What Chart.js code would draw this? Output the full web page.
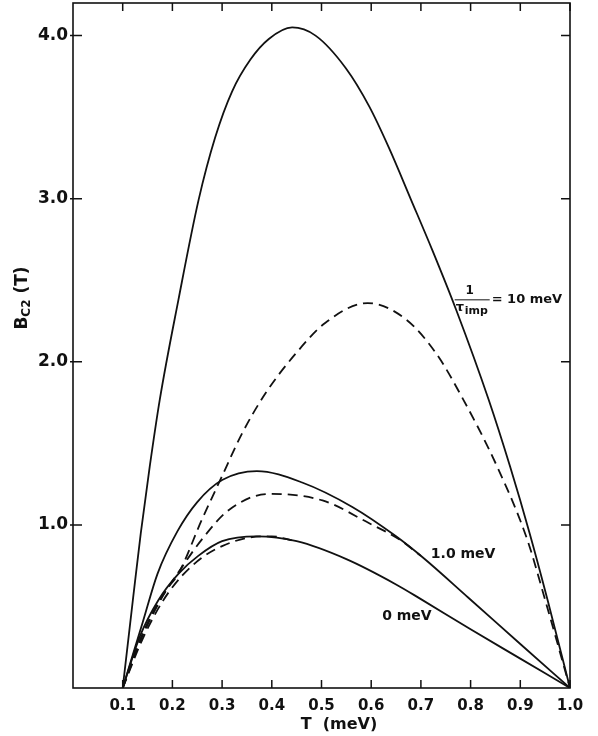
<!DOCTYPE html>
<html>
<head>
<meta charset="utf-8">
<script src="https://cdn.jsdelivr.net/npm/chart.js@4.4.1/dist/chart.umd.min.js"></script>
<style>
  html, body { margin: 0; padding: 0; background: #fff; }
  #wrap { width: 598px; height: 736px; position: relative; }
</style>
</head>
<body>
<div id="wrap"><canvas id="grafico"></canvas></div>
<script>
// x ticks (T in meV) and y ticks (Bc2 in T)
const xTicks = [0.1, 0.2, 0.3, 0.4, 0.5, 0.6, 0.7, 0.8, 0.9, 1.0];
const yTicks = [1, 2, 3, 4];

// 1/tau_imp = 10 meV, solid
const tSolid10 = [0.1, 0.1205, 0.1364, 0.1545, 0.1747, 0.2121, 0.2525, 0.286, 0.320, 0.357, 0.394, 0.441, 0.488, 0.549, 0.596, 0.636, 0.680, 0.7236, 0.7709, 0.8364, 0.8796, 0.9186, 0.9549, 1.0];
const bSolid10 = [0, 0.54, 0.95, 1.36, 1.77, 2.38, 2.99, 3.375, 3.657, 3.853, 3.979, 4.05, 4.00, 3.80, 3.566, 3.31, 2.995, 2.68, 2.319, 1.767, 1.356, 0.951, 0.54, 0];
// 10 meV, dashed
const tDash10 = [0.1, 0.13, 0.16, 0.19, 0.212, 0.259, 0.300, 0.340, 0.388, 0.448, 0.508, 0.593, 0.670, 0.731, 0.785, 0.853, 0.914, 0.95, 1.0];
const bDash10 = [0, 0.26, 0.46, 0.61, 0.70, 1.03, 1.30, 1.56, 1.81, 2.05, 2.24, 2.36, 2.26, 2.05, 1.77, 1.36, 0.91, 0.54, 0];
// 1.0 meV, solid
const tSolid1 = [0.1, 0.14, 0.17, 0.21, 0.25, 0.30, 0.37, 0.461, 0.562, 0.650, 0.704, 0.795, 0.90, 1.0];
const bSolid1 = [0, 0.40, 0.70, 0.96, 1.14, 1.275, 1.33, 1.26, 1.11, 0.93, 0.80, 0.555, 0.27, 0];
// 1.0 meV, dashed
const tDash1 = [0.1, 0.14, 0.18, 0.219, 0.259, 0.313, 0.394, 0.502, 0.596, 0.657, 0.70];
const bDash1 = [0, 0.32, 0.56, 0.74, 0.91, 1.09, 1.19, 1.15, 1.01, 0.91, 0.81];
// 0 meV, solid
const tSolid0 = [0.1, 0.135, 0.172, 0.212, 0.252, 0.30, 0.37, 0.45, 0.55, 0.65, 0.70, 0.80, 0.90, 1.0];
const bSolid0 = [0, 0.32, 0.54, 0.70, 0.81, 0.90, 0.93, 0.90, 0.79, 0.635, 0.545, 0.36, 0.18, 0];
// 0 meV, dashed
const tDash0 = [0.1, 0.14, 0.18, 0.22, 0.26, 0.30, 0.35, 0.40, 0.44];
const bDash0 = [0, 0.30, 0.53, 0.69, 0.80, 0.87, 0.92, 0.93, 0.905];

const FONT = "'DejaVu Sans', 'Liberation Sans', sans-serif";

function pts(t, b) {
    return t.map((v, i) => ({ x: v, y: b[i] }));
}

function serie(t, b, dashed) {
    return {
        data: pts(t, b),
        borderColor: '#111',
        borderWidth: 1.8,
        borderDash: dashed ? [10, 6] : [],
        pointRadius: 0,
        fill: false,
        cubicInterpolationMode: 'monotone'
    };
}

// frame, inward ticks, labels and axis titles
const extras = {
    id: 'extras',
    afterDatasetsDraw(chart) {
        const ctx = chart.ctx;
        const a = chart.chartArea;
        const xs = chart.scales.x;
        const ys = chart.scales.y;
        ctx.save();
        ctx.strokeStyle = '#111';
        ctx.lineWidth = 1.6;
        ctx.strokeRect(a.left, a.top, a.right - a.left, a.bottom - a.top);

        ctx.lineWidth = 1.5;
        ctx.beginPath();
        xTicks.forEach(v => {
            const px = xs.getPixelForValue(v);
            ctx.moveTo(px, a.bottom); ctx.lineTo(px, a.bottom - 8);
            ctx.moveTo(px, a.top); ctx.lineTo(px, a.top + 8);
        });
        yTicks.forEach(v => {
            const py = ys.getPixelForValue(v);
            ctx.moveTo(a.left - 3, py); ctx.lineTo(a.left + 9, py);
            ctx.moveTo(a.right, py); ctx.lineTo(a.right - 9, py);
        });
        ctx.stroke();

        ctx.fillStyle = '#111';
        ctx.textBaseline = 'middle';

        // 1/tau_imp = 10 meV
        const fx = xs.getPixelForValue(0.770);
        const fy = ys.getPixelForValue(2.38);
        ctx.font = 'bold 12px ' + FONT;
        ctx.textAlign = 'center';
        ctx.fillText('1', fx + 14, fy - 9);
        ctx.beginPath();
        ctx.lineWidth = 1;
        ctx.moveTo(fx - 1, fy); ctx.lineTo(fx + 34, fy);
        ctx.stroke();
        ctx.textAlign = 'left';
        ctx.font = 'bold 13px ' + FONT;
        ctx.fillText('\u03C4', fx, fy + 8);
        ctx.font = 'bold 11px ' + FONT;
        ctx.fillText('imp', fx + 9, fy + 11);
        ctx.font = 'bold 13px ' + FONT;
        ctx.fillText('= 10 meV', fx + 36, fy);

        ctx.font = 'bold 14px ' + FONT;
        ctx.fillText('1.0 meV', xs.getPixelForValue(0.720), ys.getPixelForValue(0.82));
        ctx.fillText('0 meV', xs.getPixelForValue(0.622), ys.getPixelForValue(0.44));

        // x title
        ctx.textAlign = 'center';
        ctx.font = 'bold 16px ' + FONT;
        ctx.fillText('T  (meV)', 339, 725);

        // y title, rotated, with subscript
        ctx.translate(23, 298);
        ctx.rotate(-Math.PI / 2);
        ctx.textAlign = 'left';
        ctx.font = 'bold 17px ' + FONT;
        const wB = ctx.measureText('B').width;
        const wT = ctx.measureText(' (T)').width;
        ctx.font = 'bold 12px ' + FONT;
        const wC = ctx.measureText('C2').width;
        const x0 = -(wB + wC + wT) / 2;
        ctx.font = 'bold 17px ' + FONT;
        ctx.fillText('B', x0, 0);
        ctx.font = 'bold 12px ' + FONT;
        ctx.fillText('C2', x0 + wB, 4);
        ctx.font = 'bold 17px ' + FONT;
        ctx.fillText(' (T)', x0 + wB + wC, 0);
        ctx.restore();
    }
};

const ctx = document.getElementById('grafico').getContext('2d');
new Chart(ctx, {
    type: 'line',
    data: {
        datasets: [
            serie(tSolid10, bSolid10, false),
            serie(tDash10, bDash10, true),
            serie(tSolid1, bSolid1, false),
            serie(tDash1, bDash1, true),
            serie(tSolid0, bSolid0, false),
            serie(tDash0, bDash0, true)
        ]
    },
    options: {
        responsive: true,
        maintainAspectRatio: false,
        animation: false,
        layout: { padding: { top: 3, right: 28, left: 0, bottom: 0 } },
        plugins: { legend: { display: false }, tooltip: { enabled: false } },
        scales: {
            x: {
                type: 'linear',
                min: 0,
                max: 1.0,
                grid: { display: false, drawTicks: false },
                border: { display: false },
                ticks: {
                    stepSize: 0.1,
                    autoSkip: false,
                    maxRotation: 0,
                    padding: 9,
                    color: '#111',
                    font: { family: FONT, size: 15, weight: 'bold' },
                    callback: v => (v < 0.05 ? '' : v.toFixed(1))
                },
                afterFit: s => { s.height = 48; }
            },
            y: {
                type: 'linear',
                min: 0,
                max: 4.2,
                grid: { display: false, drawTicks: false },
                border: { display: false },
                ticks: {
                    stepSize: 1,
                    padding: 5,
                    color: '#111',
                    font: { family: FONT, size: 17, weight: 'bold' },
                    callback: v => (v > 0.5 && Math.abs(v - Math.round(v)) < 0.01 ? v.toFixed(1) : '')
                },
                afterFit: s => { s.width = 73; s.paddingTop = 0; s.paddingBottom = 0; }
            }
        }
    },
    plugins: [extras]
});
</script>
</body>
</html>
